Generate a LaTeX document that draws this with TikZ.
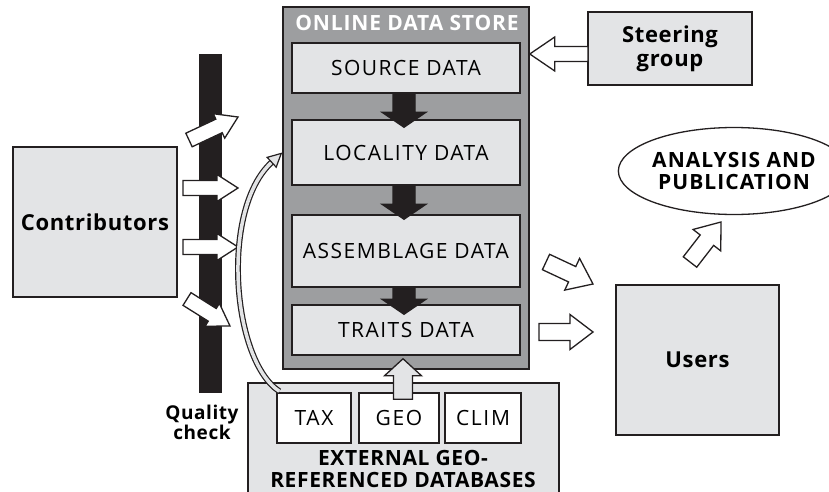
\documentclass[tikz,border=0pt]{standalone}
\usepackage{fontspec}
\setmainfont{Open Sans}
\usetikzlibrary{calc, arrows.meta, shapes.geometric}

\definecolor{boxgray}{HTML}{E3E4E6}
\definecolor{storegray}{HTML}{9D9EA0}
\definecolor{inkblack}{HTML}{231F20}

% font size and letter spacing: {spacing}{size}
\newcommand\fsz[2]{\fontsize{#2}{#2}\selectfont\addfontfeature{LetterSpace=#1}}

% fat block arrow: [fill]{from}{to}{shaft half}{head half}{head length}
\newcommand\blockarrow[6][white]{%
  \filldraw[fill=#1, draw=inkblack, line width=1.3pt, line join=miter]
    ($(#2)!#4!-90:(#3)$) -- ($(#3)!#6!(#2)!#4!-90:(#3)$) -- ($(#3)!#6!(#2)!#5!-90:(#3)$)
    -- (#3) -- ($(#3)!#6!(#2)!#5!90:(#3)$) -- ($(#3)!#6!(#2)!#4!90:(#3)$)
    -- ($(#2)!#4!90:(#3)$) -- cycle;}

\begin{document}
\begin{tikzpicture}[x=1pt, y=-1pt,
  box/.style={draw=inkblack, line width=1.5pt, fill=boxgray, inner sep=0pt, align=center},
  databox/.style={box, minimum width=228pt, font=\fsz{7}{21}},
  extbox/.style={box, fill=white, minimum height=50pt, font=\fsz{8}{21}},
  bold/.style={font=\bfseries\fsz{3}{22}, align=center}]
\useasboundingbox (0,0) rectangle (829,492);

% online data store
\node at (406,188) [draw=inkblack, line width=1.5pt, fill=storegray, minimum width=246pt, minimum height=362pt] (store) {};
\node at (407,23) [text=white, font=\bfseries\fsz{4}{21}] (storetitle) {ONLINE DATA STORE};
\node at (406,68) [databox, minimum height=50pt] (source) {SOURCE DATA};
\node at (406,152.5) [databox, minimum height=65pt] (locality) {LOCALITY DATA};
\node at (406,251) [databox, minimum height=72pt] (assemblage) {ASSEMBLAGE DATA};
\node at (406,330) [databox, minimum height=50pt] (traits) {TRAITS DATA};

\coordinate (s1) at ($(source.south)+(-2,0)$);
\coordinate (s2) at ($(locality.north)+(-2,8)$);
\coordinate (s3) at ($(locality.south)+(-2,0)$);
\coordinate (s4) at ($(assemblage.north)+(-2,5)$);
\coordinate (s5) at ($(assemblage.south)+(-2,0)$);
\coordinate (s6) at ($(traits.north)+(-2,10)$);
\blockarrow[inkblack]{s1}{s2}{11pt}{22pt}{15pt}
\blockarrow[inkblack]{s3}{s4}{11pt}{22pt}{15pt}
\blockarrow[inkblack]{s5}{s6}{11pt}{22pt}{15pt}

% steering group
\node at (670,48.5) [box, bold, minimum width=164pt, minimum height=73pt] (steer) {Steering\\[2pt]group};
\coordinate (st1) at (588,54);
\coordinate (st2) at (store.east |- st1);
\blockarrow{st1}{st2}{7.5pt}{17pt}{25pt}

% contributors and quality check
\node at (95,222) [box, bold, minimum width=164pt, minimum height=150pt] (contrib) {Contributors};
\node at (210.5,223.5) [fill=inkblack, minimum width=23pt, minimum height=339pt, inner sep=0pt] (gate) {};
\node at (202,422) [font=\bfseries\fsz{3}{19}, align=center] (qlabel) {Quality\\[1pt]check};

\coordinate (c1a) at (189,140); \coordinate (c1b) at (238,117);
\coordinate (c2a) at (183,188); \coordinate (c2b) at (238,188);
\coordinate (c3a) at (183,247); \coordinate (c3b) at (238,247);
\coordinate (c4a) at (187,299); \coordinate (c4b) at (230,326);
\blockarrow{c1a}{c1b}{7.5pt}{13.5pt}{21pt}
\blockarrow{c2a}{c2b}{7.5pt}{13.5pt}{21pt}
\blockarrow{c3a}{c3b}{7.5pt}{13.5pt}{21pt}
\blockarrow{c4a}{c4b}{7.5pt}{13.5pt}{21pt}

% external databases
\draw[draw=inkblack, line width=1.5pt, fill=boxgray] (248,383) rectangle (559,500);
\node at (314,418) [extbox, minimum width=74pt] (tax) {TAX};
\node at (399,418) [extbox, minimum width=80pt] (geo) {GEO};
\node at (483,418) [extbox, minimum width=76pt] (clim) {CLIM};
\node at (403,469) [font=\bfseries\fsz{3}{21}, align=center] (extlabel) {EXTERNAL GEO-\\[1pt]REFERENCED DATABASES};
\coordinate (g1) at ($(geo.north)+(4,7)$);
\coordinate (g2) at ($(traits.south)+(-3,3)$);
\blockarrow[boxgray]{g1}{g2}{9.5pt}{18.5pt}{17pt}

\coordinate (cv) at (store.west |- locality);
\draw[inkblack, line width=1.2pt, double=boxgray, double distance=3.5pt, -{Triangle[length=15pt, width=15pt, open, fill=boxgray]}]
  ($(tax.north west)+(3,-1)$) .. controls (232,360) and (220,210) .. (cv);

% users and publication
\node at (697.5,360) [box, bold, minimum width=163pt, minimum height=150pt] (users) {Users};
\node at (734,171) [ellipse, draw=inkblack, line width=1.3pt, fill=white, minimum width=184pt, minimum height=87pt, inner sep=0pt, font=\bfseries\fsz{5}{21}, align=center] (pub) {ANALYSIS AND\\[1pt]PUBLICATION};

\coordinate (u1a) at (546,262); \coordinate (u1b) at (593,284);
\coordinate (u2a) at (539,332); \coordinate (u2b) at (593,332);
\coordinate (u3a) at (690,262); \coordinate (u3b) at (721,222);
\blockarrow{u1a}{u1b}{8.5pt}{17.5pt}{23pt}
\blockarrow{u2a}{u2b}{8.5pt}{17.5pt}{23pt}
\blockarrow{u3a}{u3b}{8.5pt}{17.5pt}{23pt}
\end{tikzpicture}
\end{document}
